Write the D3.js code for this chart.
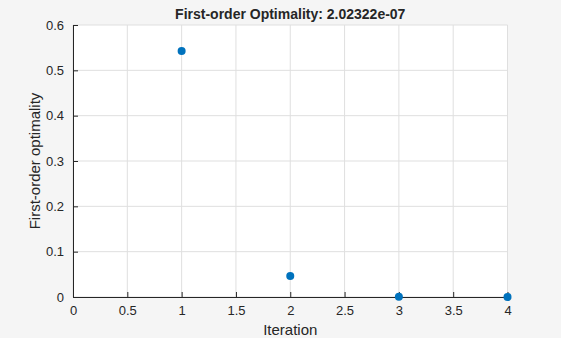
<!DOCTYPE html>
<html lang="en">
<head>
<meta charset="UTF-8">
<title>First-order Optimality</title>
<script src="https://d3js.org/d3.v7.min.js"></script>
<style>
  body { margin: 0; background: #f5f5f5; }
  svg { display: block; font-family: "Liberation Sans", Arial, sans-serif; }
</style>
</head>
<body>
<svg id="chart" width="561" height="338"></svg>
<script>
// data
var iterations = [1, 2, 3, 4];
var optimality = [0.5425, 0.0465, 0.0005, 2.02322e-7];
var xTicks = [0, 0.5, 1, 1.5, 2, 2.5, 3, 3.5, 4];
var yTicks = [0, 0.1, 0.2, 0.3, 0.4, 0.5, 0.6];

var svg = d3.select("#chart");
// plot box (not named "top": that clashes with window.top)
var plotL = 73, plotR = 507.5, plotT = 25, plotB = 297;

var x = d3.scaleLinear().domain([0, 4]).range([plotL, plotR]);
var y = d3.scaleLinear().domain([0, 0.6]).range([plotB, plotT]);

// axes background
svg.append("rect")
  .attr("x", plotL).attr("y", plotT)
  .attr("width", plotR - plotL).attr("height", plotB - plotT)
  .attr("fill", "white");

// grid
svg.append("g").selectAll("line").data(xTicks).enter().append("line")
  .attr("x1", d => x(d)).attr("x2", d => x(d))
  .attr("y1", plotT).attr("y2", plotB)
  .attr("stroke", "#dfdfdf").attr("stroke-width", 1);
svg.append("g").selectAll("line").data(yTicks).enter().append("line")
  .attr("x1", plotL).attr("x2", plotR)
  .attr("y1", d => y(d)).attr("y2", d => y(d))
  .attr("stroke", "#dfdfdf").attr("stroke-width", 1);

// axes
var xAxis = d3.axisBottom(x).tickValues(xTicks).tickSizeInner(-5).tickSizeOuter(0).tickPadding(9)
  .tickFormat(d3.format("~g"));
var yAxis = d3.axisLeft(y).tickValues(yTicks).tickSizeInner(-5).tickSizeOuter(0).tickPadding(9)
  .tickFormat(d3.format("~g"));

var gx = svg.append("g").attr("transform", "translate(0," + plotB + ")").call(xAxis);
var gy = svg.append("g").attr("transform", "translate(" + plotL + ",0)").call(yAxis);
[gx, gy].forEach(function(g) {
  g.select(".domain").attr("stroke", "#262626");
  g.selectAll(".tick line").attr("stroke", "#262626");
  g.selectAll(".tick text").attr("fill", "#262626").style("font-size", "13px");
});

// points
svg.append("g").selectAll("circle").data(iterations).enter().append("circle")
  .attr("cx", d => x(d))
  .attr("cy", (d, i) => y(optimality[i]))
  .attr("r", 4)
  .attr("fill", "#0072bd");

// title and labels
svg.append("text")
  .attr("x", (plotL + plotR) / 2).attr("y", 19)
  .attr("text-anchor", "middle")
  .attr("font-weight", "bold").attr("font-size", "14px").attr("fill", "#262626")
  .text("First-order Optimality: 2.02322e-07");

svg.append("text")
  .attr("x", (plotL + plotR) / 2).attr("y", 335)
  .attr("text-anchor", "middle")
  .attr("font-size", "15px").attr("fill", "#262626")
  .text("Iteration");

svg.append("text")
  .attr("transform", "translate(40," + (plotT + plotB) / 2 + ") rotate(-90)")
  .attr("text-anchor", "middle")
  .attr("font-size", "15px").attr("fill", "#262626")
  .text("First-order optimality");
</script>
</body>
</html>
